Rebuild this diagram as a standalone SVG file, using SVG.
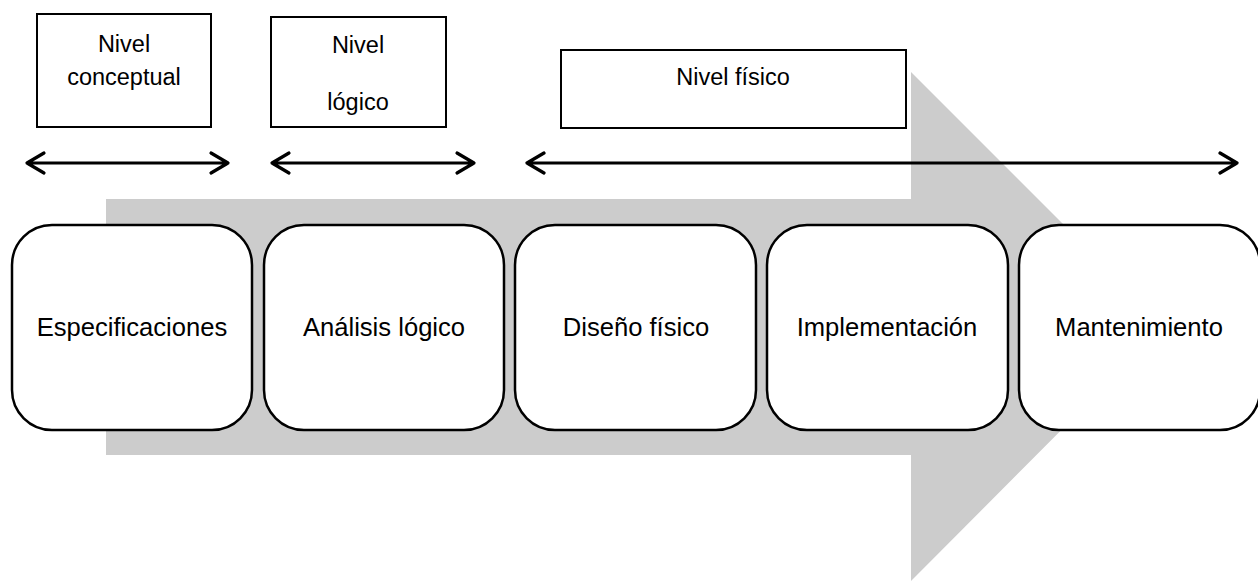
<svg xmlns="http://www.w3.org/2000/svg" width="1258" height="581" viewBox="0 0 1258 581">
<style>
.big{fill:#cccccc;stroke:none}
.stage{fill:#ffffff;stroke:#000000;stroke-width:2.5}
.level{fill:#ffffff;stroke:#000000;stroke-width:2}
.t{font-family:"Liberation Sans",Arial,sans-serif;fill:#000000;text-anchor:middle}
.tb{font-size:25.6px}
.ts{font-size:23.5px}
.con{fill:none;stroke:#000000;stroke-width:3.2;stroke-linecap:round;stroke-linejoin:round}
</style>
<g id="flow-arrow">
<polygon class="big" points="106,199 911,199 911,72 1165,326 911,581 911,455 106,455"/>
</g>
<g id="connectors">
<path class="con" d="M27,163 H228 M44,153 L27,163 L44,173 M211,153 L228,163 L211,173"/>
<path class="con" d="M272,163 H474 M289,153 L272,163 L289,173 M457,153 L474,163 L457,173"/>
<path class="con" d="M527,163 H1237 M544,153 L527,163 L544,173 M1220,153 L1237,163 L1220,173"/>
</g>
<g id="nivel-conceptual">
<rect class="level" x="37" y="14" width="174" height="113"/>
<text class="t ts" x="124" y="52">Nivel</text>
<text class="t ts" x="124" y="85">conceptual</text>
</g>
<g id="nivel-logico">
<rect class="level" x="271" y="17" width="175" height="110"/>
<text class="t ts" x="358" y="53">Nivel</text>
<text class="t ts" x="358" y="110">lógico</text>
</g>
<g id="nivel-fisico">
<rect class="level" x="561" y="50" width="345" height="78"/>
<text class="t ts" x="733" y="85">Nivel físico</text>
</g>
<g id="especificaciones">
<rect class="stage" x="12" y="225" width="240" height="205" rx="40" ry="40"/>
<text class="t tb" x="132" y="336">Especificaciones</text>
</g>
<g id="analisis-logico">
<rect class="stage" x="264" y="225" width="240" height="205" rx="40" ry="40"/>
<text class="t tb" x="384" y="336">Análisis lógico</text>
</g>
<g id="diseno-fisico">
<rect class="stage" x="515" y="225" width="241" height="205" rx="40" ry="40"/>
<text class="t tb" x="636" y="336">Diseño físico</text>
</g>
<g id="implementacion">
<rect class="stage" x="767" y="225" width="241" height="205" rx="40" ry="40"/>
<text class="t tb" x="887" y="336">Implementación</text>
</g>
<g id="mantenimiento">
<rect class="stage" x="1019" y="225" width="241" height="205" rx="40" ry="40"/>
<text class="t tb" x="1139" y="336">Mantenimiento</text>
</g>
</svg>
